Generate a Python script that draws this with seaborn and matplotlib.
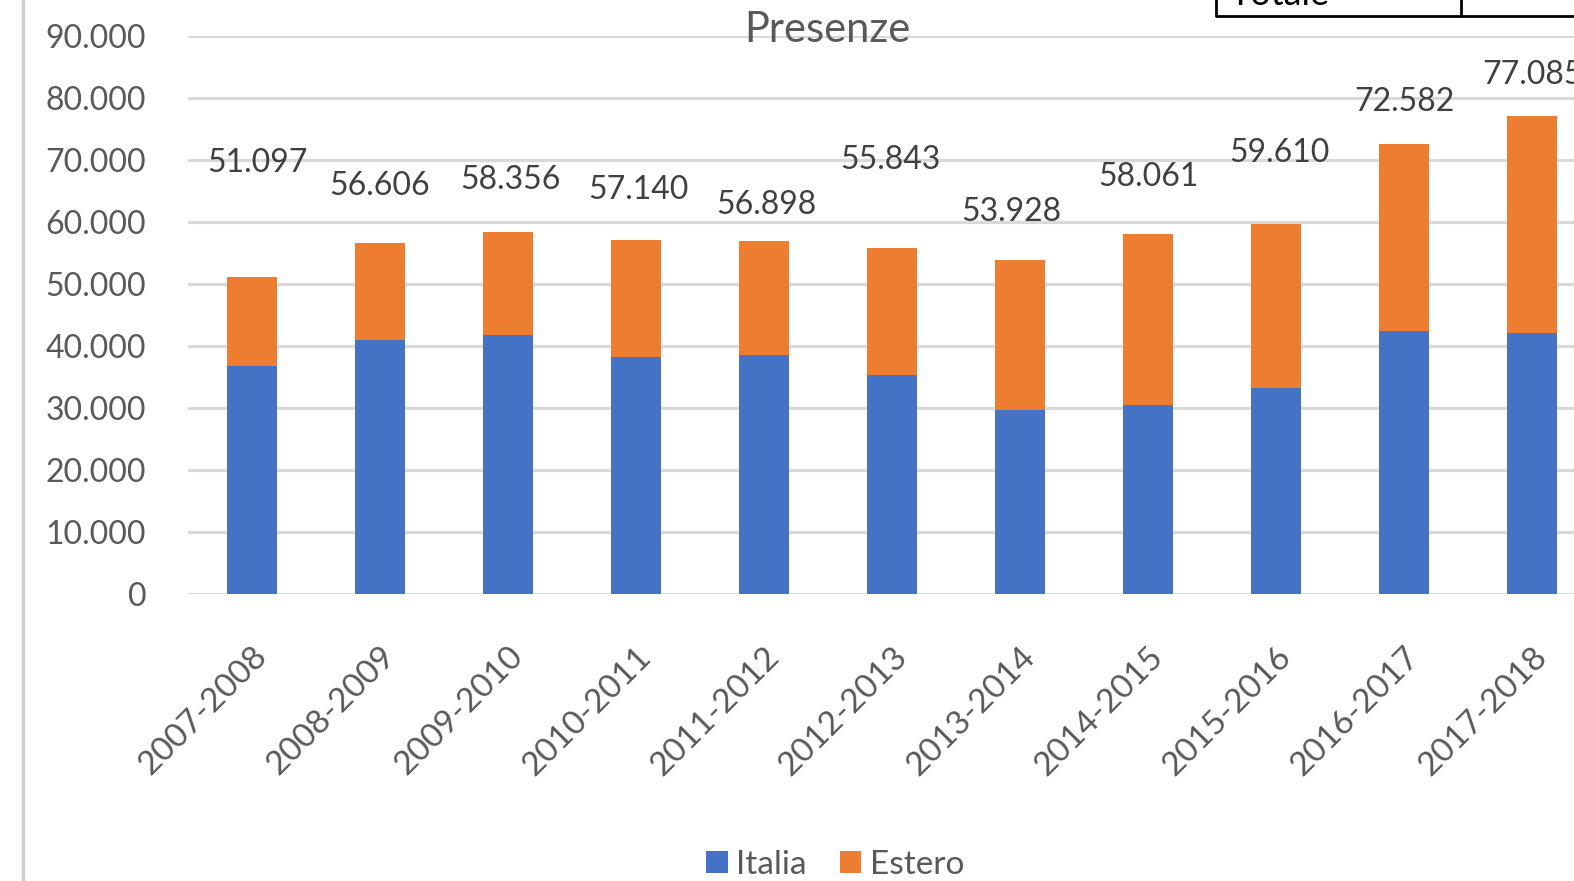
import matplotlib
matplotlib.use("Agg")
import matplotlib.pyplot as plt
import seaborn as sns
import numpy as np
import pandas as pd
from matplotlib.patches import Patch
from matplotlib.lines import Line2D

# ---- data ----
stagioni = ["2007-2008", "2008-2009", "2009-2010", "2010-2011", "2011-2012",
            "2012-2013", "2013-2014", "2014-2015", "2015-2016", "2016-2017", "2017-2018"]
italia = [36770, 41000, 41770, 38170, 38550, 35370, 29680, 30430, 33170, 42420, 42050]
estero = [14327, 15606, 16586, 18970, 18348, 20473, 24248, 27631, 26440, 30162, 35035]
y_ticks = [0, 10000, 20000, 30000, 40000, 50000, 60000, 70000, 80000, 90000]
titolo = "Presenze"
serie = ["Italia", "Estero"]

# label placement (layout only, data units)
label_y = [69500, 65800, 66800, 65200, 62700, 70000, 61600, 67300, 71100, 79300, 83700]
label_dx = [0.04, 0.0, 0.02, 0.02, 0.02, -0.01, -0.07, 0.0, 0.03, 0.0, 0.0]

totale = [a + b for a, b in zip(italia, estero)]
df = pd.DataFrame({"stagione": stagioni, "italia": italia, "totale": totale})

BLUE = "#4472C4"
ORANGE = "#ED7D31"
GRID = "#D9D9D9"
TXT = "#595959"

sns.set_theme(style="white")
plt.rcParams["font.family"] = ["Lato", "DejaVu Sans"]

W, H = 1574, 881
fig = plt.figure(figsize=(W / 100, H / 100), dpi=100)
left_px, right_px, top_px, bot_px = 188, 188 + 11 * 128, 36, 594
ax = fig.add_axes([left_px / W, 1 - bot_px / H, (right_px - left_px) / W, (bot_px - top_px) / H])

sns.barplot(data=df, x="stagione", y="totale", color=ORANGE, width=0.39,
            saturation=1, linewidth=0, ax=ax, zorder=3)
sns.barplot(data=df, x="stagione", y="italia", color=BLUE, width=0.39,
            saturation=1, linewidth=0, ax=ax, zorder=4)

ax.set_xlim(-0.5, len(stagioni) - 0.5)
ax.set_ylim(0, 90000)
ax.set_yticks(y_ticks)
ax.set_yticklabels([f"{v:,}".replace(",", ".") for v in y_ticks], fontsize=23, color=TXT)
ax.yaxis.grid(True, color=GRID, linewidth=2.2, zorder=0)
ax.set_axisbelow(True)
for s in ax.spines.values():
    s.set_visible(False)
ax.tick_params(axis="y", length=0, pad=30)
ax.tick_params(axis="x", length=0, pad=34)
ax.set_xticks(range(len(stagioni)))
ax.set_xticklabels(stagioni, rotation=45, ha="right", rotation_mode="anchor",
                   fontsize=24, color=TXT)
ax.set_xlabel("")
ax.set_ylabel("")

for i, (t, ly) in enumerate(zip(totale, label_y)):
    ax.text(i + label_dx[i], ly, f"{t:,}".replace(",", "."), ha="center", va="center",
            fontsize=23, color="#404040", zorder=5, clip_on=False)

fig.text(827 / W, 1 - 30 / H, titolo, ha="center", va="center", fontsize=30, color=TXT)

handles = [Patch(facecolor=BLUE, edgecolor="none"), Patch(facecolor=ORANGE, edgecolor="none")]
fig.legend(handles, serie, loc="center", bbox_to_anchor=(835 / W, 1 - 865 / H),
           ncol=2, frameon=False, fontsize=24, handlelength=0.65, handleheight=0.65,
           handletextpad=0.25, columnspacing=1.0, labelcolor=TXT)

# left border of chart area
fig.add_artist(Line2D([22.5 / W, 22.5 / W], [0, 1], color="#D0D0D0", linewidth=2.5,
                      transform=fig.transFigure))
# fragment of a table at the top right
fig.add_artist(Line2D([1216 / W, 1216 / W, 1574 / W], [1, 1 - 15.5 / H, 1 - 15.5 / H],
                      color="black", linewidth=2, transform=fig.transFigure))
fig.add_artist(Line2D([1461 / W, 1461 / W], [1, 1 - 15.5 / H], color="black",
                      linewidth=2, transform=fig.transFigure))
fig.text(1229 / W, 1 - 5 / H, "Totale", ha="left", va="baseline", fontsize=26, color="black")

fig.savefig("out.png", dpi=100)
